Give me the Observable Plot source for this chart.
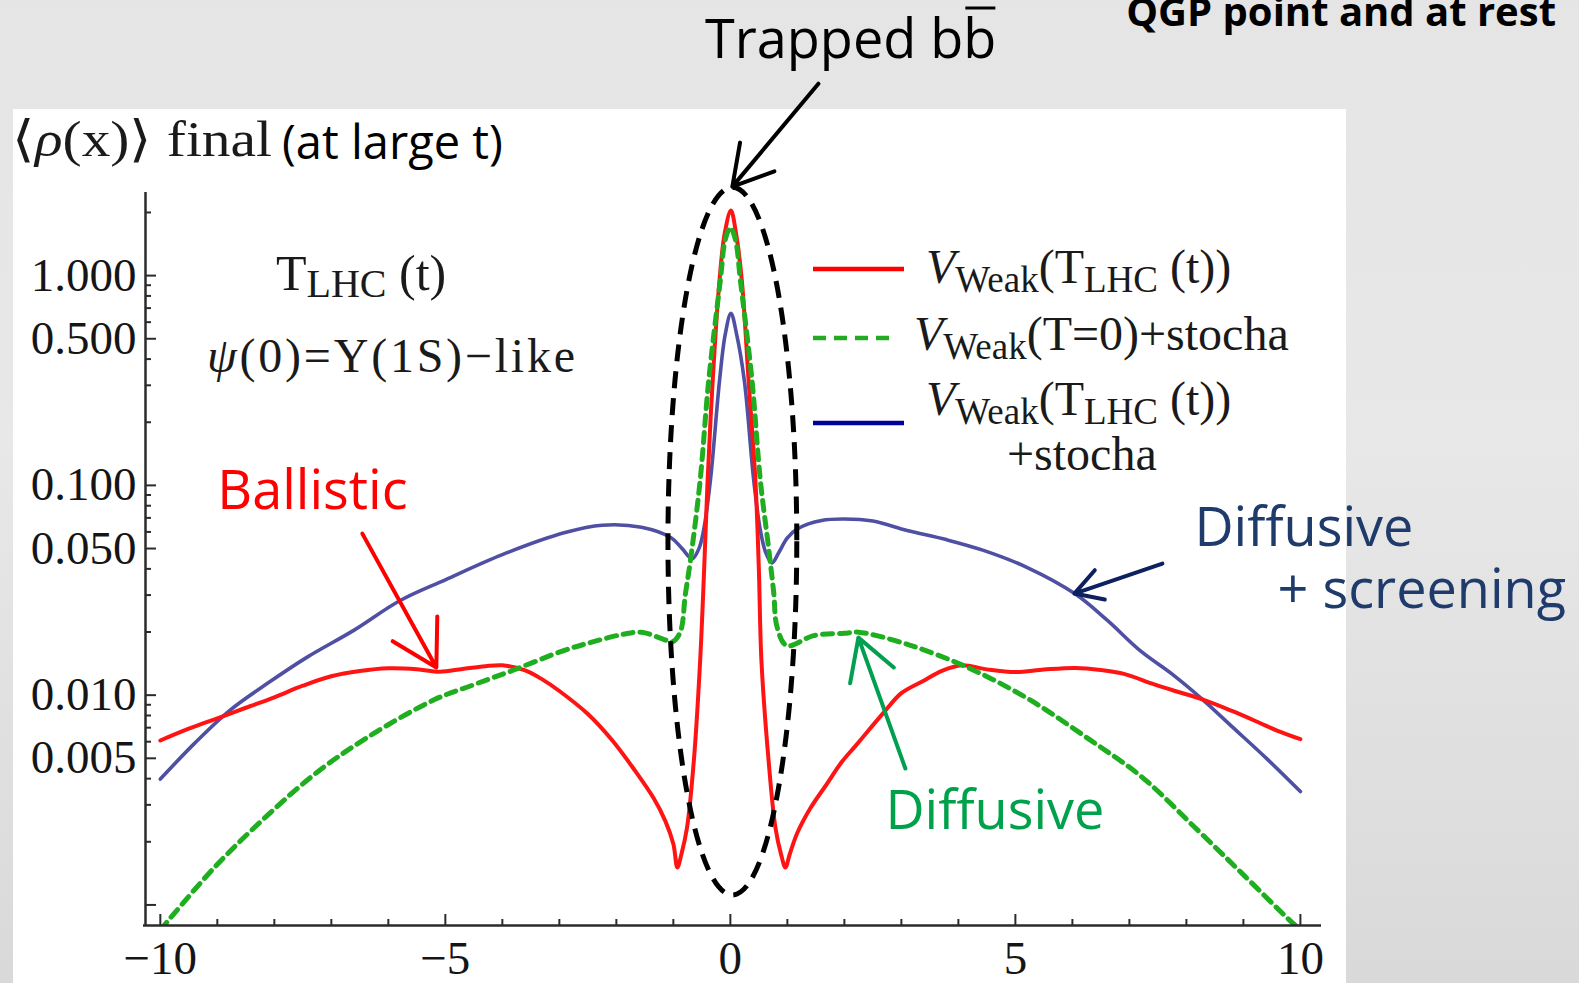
<!DOCTYPE html>
<html><head><meta charset="utf-8">
<script src="https://cdn.jsdelivr.net/npm/d3@7"></script>
<script src="https://cdn.jsdelivr.net/npm/@observablehq/plot@0.6"></script>
<style>
html,body{margin:0;padding:0;width:1579px;height:983px;overflow:hidden;}
body{background:linear-gradient(to bottom,#e5e5e5 0%,#e8e8e8 45%,#d9d9d9 100%);position:relative;}
#panel{position:absolute;left:13px;top:109px;width:1333px;height:874px;background:#ffffff;}
#chart{position:absolute;left:0;top:0;}
</style></head><body>
<div id="panel"></div>
<div id="chart"></div>
<script>
// ---- data ----
const xRed = [-10,-9.5,-9,-8.5,-8,-7.5,-7,-6.5,-6,-5.5,-5.1,-4.7,-4.3,-4.0,-3.6,-3.3,-3.0,-2.5,-2.07,-1.7,-1.35,-1.14,-1.0,-0.93,-0.86,-0.76,-0.64,-0.53,-0.46,-0.40,-0.31,-0.19,-0.1,0.01,0.1,0.2,0.32,0.44,0.5,0.545,0.67,0.79,0.89,0.965,1.04,1.17,1.4,1.7,1.95,2.2,2.7,3.0,3.4,3.7,4.06,4.5,5.0,5.5,6.05,6.5,6.92,7.4,7.8,8.28,8.8,9.27,9.6,10];
const rhoRed = [0.00608,0.00692,0.00776,0.00871,0.00977,0.01109,0.0123,0.01303,0.01343,0.0133,0.01294,0.01334,0.01374,0.01387,0.01312,0.01189,0.01047,0.00813,0.00608,0.00447,0.00324,0.00251,0.00195,0.00151,0.00174,0.00234,0.0049,0.01462,0.0398,0.1047,0.316,0.955,1.585,2.042,1.585,0.955,0.316,0.1047,0.0398,0.01462,0.0049,0.00234,0.00174,0.00151,0.00174,0.00219,0.00288,0.0038,0.00479,0.00575,0.00832,0.01023,0.01175,0.01303,0.0139,0.01327,0.01288,0.01324,0.01349,0.01318,0.01259,0.01135,0.01047,0.00955,0.00841,0.00741,0.00676,0.00617];

const xGreen = [-10,-9.05,-8.15,-7.26,-6.36,-5.18,-4.5,-3.8,-2.95,-2.4,-1.88,-1.56,-1.16,-1.02,-0.88,-0.79,-0.70,-0.53,-0.38,-0.175,-0.09,0,0.09,0.175,0.38,0.526,0.67,0.76,0.82,0.99,1.46,2.0,2.25,3.13,4.18,5.24,6.29,7.22,8.15,8.98,9.8,10];
const rhoGreen = [0.000759,0.00151,0.00263,0.00427,0.00631,0.00955,0.01122,0.01318,0.01622,0.01799,0.0195,0.01995,0.01841,0.01795,0.01995,0.0302,0.04395,0.1057,0.316,0.955,1.479,1.694,1.479,0.955,0.316,0.1057,0.0505,0.0309,0.0211,0.01722,0.01923,0.01972,0.01995,0.01738,0.01349,0.00955,0.00617,0.00407,0.00234,0.00141,0.000851,0.000759];

const xBlue = [-10,-9.4,-8.77,-8.1,-7.43,-6.6,-5.8,-5.0,-4.0,-2.9,-2.25,-1.56,-1.04,-0.85,-0.67,-0.55,-0.47,-0.35,-0.19,-0.09,0.01,0.11,0.245,0.41,0.526,0.62,0.73,0.85,1.0,1.19,1.6,2.0,2.5,3.1,3.8,4.44,5.2,6.04,6.6,7.2,7.75,8.28,8.8,9.4,10];
const rhoBlue = [0.00398,0.00589,0.00851,0.01148,0.01514,0.02042,0.02818,0.03548,0.04677,0.05957,0.06457,0.0631,0.05623,0.0501,0.04467,0.0501,0.06109,0.1057,0.316,0.525,0.661,0.525,0.316,0.1057,0.0611,0.0479,0.0427,0.0479,0.0562,0.0624,0.0681,0.0692,0.0676,0.061,0.055,0.049,0.0407,0.0305,0.0229,0.0162,0.01259,0.00955,0.00708,0.00501,0.00347];

const xDomain = [-10.26, 10.37];
const yDomain = [0.000798, 2.49];
const xMajorTicks = [-10, -5, 0, 5, 10];
const xMinorTicks = [-9,-8,-7,-6,-4,-3,-2,-1,1,2,3,4,6,7,8,9];
const yMajorTicks = [0.001, 0.005, 0.01, 0.05, 0.1, 0.5, 1];
const yLabelTicks = [0.005, 0.01, 0.05, 0.1, 0.5, 1];
const yLabels = ["0.005", "0.010", "0.050", "0.100", "0.500", "1.000"];
const yMinorTicks = [0.002,0.003,0.004,0.006,0.007,0.008,0.009,0.02,0.03,0.04,0.06,0.07,0.08,0.09,0.2,0.3,0.4,0.6,0.7,0.8,0.9,2];

const seriesNames = ["V_Weak(T_LHC(t))", "V_Weak(T=0)+stocha", "V_Weak(T_LHC(t))+stocha"];
const seriesColors = ["#ff1414", "#1fae1f", "#4f4fa3"];
const legendColors = ["#ff0000", "#22aa22", "#00009a"];

// annotation arrows (data coordinates)
const arrowX1 = [1.544, -6.456, 7.579, 3.07];
const arrowY1 = [8.22, 0.0589, 0.0424, 0.00447];
const arrowX2 = [0.035, -5.158, 6.035, 2.246];
const arrowY2 = [2.655, 0.01355, 0.0305, 0.01881];
const arrowColors = ["#000000", "#ff0000", "#0d2160", "#00a050"];

// annotation labels (data coordinates, baseline)
const noteText = ["Ballistic", "Diffusive", "+ screening", "Diffusive"];
const noteX = [-9.0, 8.14, 9.6, 2.72];
const noteY = [0.0775, 0.0516, 0.0259, 0.00231];
const noteColors = ["#ff0000", "#1f3b6b", "#1f3b6b", "#00a14b"];

// dashed ellipse around the peak (data coordinates)
const ellipseCx = 0.044, ellipseRx = 1.13, ellipseTop = 2.62, ellipseBottom = 0.00111;

// ---- build ----
const red = xRed.map((x, i) => ({x, y: rhoRed[i]}));
const green = xGreen.map((x, i) => ({x, y: rhoGreen[i]}));
const blue = xBlue.map((x, i) => ({x, y: rhoBlue[i]}));
const arrows = arrowX1.map((x1, i) => ({x1, y1: arrowY1[i], x2: arrowX2[i], y2: arrowY2[i], c: arrowColors[i]}));
const notes = noteText.map((t, i) => ({t, x: noteX[i], y: noteY[i], c: noteColors[i]}));
const yLab = yLabelTicks.map((v, i) => ({v, t: yLabels[i]}));

const W = 1579, H = 983, mL = 145, mR = 258, mT = 192, mB = 58;
const innerW = W - mL - mR, innerH = H - mT - mB;
const fmtX = d => d < 0 ? "\u2212" + Math.abs(d) : String(d);
const axisColor = "#2b2b2b";

const plot = Plot.plot({
  width: W, height: H,
  marginLeft: mL, marginRight: mR, marginTop: mT, marginBottom: mB,
  style: {background: "transparent", fontFamily: "'Liberation Serif', 'Times New Roman', serif", overflow: "visible"},
  x: {domain: xDomain},
  y: {type: "log", domain: yDomain, axis: null},
  marks: [
    Plot.line(blue, {x: "x", y: "y", stroke: seriesColors[2], strokeWidth: 3.6, curve: "catmull-rom", clip: true}),
    Plot.line(red, {x: "x", y: "y", stroke: seriesColors[0], strokeWidth: 4, curve: "catmull-rom", clip: true}),
    Plot.line(green, {x: "x", y: "y", stroke: seriesColors[1], strokeWidth: 5, strokeDasharray: "10,7", curve: "catmull-rom", clip: true}),
    Plot.ruleX([xDomain[0]], {stroke: axisColor, strokeWidth: 2.5}),
    Plot.ruleY([yDomain[0]], {stroke: axisColor, strokeWidth: 2.5, insetLeft: -2}),
    Plot.ruleX(xMajorTicks, {stroke: axisColor, strokeWidth: 2, insetTop: innerH - 11}),
    Plot.ruleX(xMinorTicks, {stroke: axisColor, strokeWidth: 2, insetTop: innerH - 6}),
    Plot.ruleY(yMajorTicks, {stroke: axisColor, strokeWidth: 2, insetRight: innerW - 11}),
    Plot.ruleY(yMinorTicks, {stroke: axisColor, strokeWidth: 2, insetRight: innerW - 6}),
    Plot.axisX({ticks: xMajorTicks, tickSize: 0, tickPadding: 15, tickFormat: fmtX, fontSize: 47, fill: "#151515", label: null}),
    Plot.text(yLab, {y: "v", text: "t", frameAnchor: "left", dx: -9, textAnchor: "end", fontSize: 47, fill: "#151515"}),
    Plot.arrow(arrows, {x1: "x1", y1: "y1", x2: "x2", y2: "y2", stroke: "c", strokeWidth: 4, headLength: 22}),
    Plot.text(notes, {x: "x", y: "y", text: "t", fill: "c", fontSize: 54, textAnchor: "start", lineAnchor: "bottom", fontFamily: "'Open Sans', sans-serif"})
  ]
});
document.getElementById("chart").appendChild(plot);

// ---- ellipse and rich-text annotations ----
const sx = plot.scale("x"), sy = plot.scale("y");
const svg = d3.select(plot);
const cx = sx.apply(ellipseCx);
const yT = sy.apply(ellipseTop), yB = sy.apply(ellipseBottom);
svg.append("ellipse")
  .attr("cx", cx).attr("cy", (yT + yB) / 2)
  .attr("rx", sx.apply(ellipseCx + ellipseRx) - cx).attr("ry", (yB - yT) / 2)
  .attr("fill", "none").attr("stroke", "#000").attr("stroke-width", 5)
  .attr("stroke-dasharray", "17,10");

const serif = "'Liberation Serif', 'Times New Roman', serif";
const sans = "'Open Sans', sans-serif";
const g = svg.append("g").attr("fill", "#1a1a1a").attr("text-anchor", "start");

function rich(x, y, size, parts, family) {
  const t = g.append("text").attr("x", x).attr("y", y).attr("font-size", size).attr("font-family", family || serif);
  let shift = 0;
  for (const p of parts) {
    const s = t.append("tspan").text(p.t);
    const want = p.sub ? p.sub : 0;
    if (want !== shift) { s.attr("dy", want - shift); shift = want; }
    if (p.size) s.attr("font-size", p.size);
    if (p.italic) s.attr("font-style", "italic");
  }
  return t;
}

// legend
const legY = [269, 338, 423];
legendColors.forEach((c, i) => {
  svg.append("line").attr("x1", 813).attr("x2", i === 1 ? 890 : 904)
    .attr("y1", legY[i]).attr("y2", legY[i]).attr("stroke", c).attr("stroke-width", 4.5)
    .attr("stroke-dasharray", i === 1 ? "13,8" : null);
});
const vW = [{t: "V", italic: true}, {t: "Weak", size: 37, sub: 9}];
rich(926, 283, 48, [...vW, {t: "(T"}, {t: "LHC", size: 37, sub: 9}, {t: " (t))"}]);
rich(914, 350, 48, [...vW, {t: "(T=0)+stocha"}]);
rich(926, 415, 48, [...vW, {t: "(T"}, {t: "LHC", size: 37, sub: 9}, {t: " (t))"}]);
rich(1007, 470, 48, [{t: "+stocha"}]);

// plot notes
rich(276, 290, 50, [{t: "T"}, {t: "LHC", size: 40, sub: 7}, {t: " (t)"}]);
rich(207, 372, 48, [{t: "\u03c8", italic: true}, {t: "(0)=\u03a5(1S)\u2212like"}]).attr("textLength", 368).attr("lengthAdjust", "spacing");
rich(12, 156, 50, [{t: "\u27e8"}, {t: "\u03c1", italic: true}, {t: "(x)\u27e9 final"}]).attr("textLength", 260).attr("lengthAdjust", "spacingAndGlyphs");
rich(282, 159, 47, [{t: "(at large t)"}], sans).attr("fill", "#000");

// slide texts
const trapped = rich(705, 58, 54, [{t: "Trapped bb"}], sans).attr("fill", "#000");
const ext = trapped.node().getExtentOfChar(9);
svg.append("line").attr("x1", ext.x + 2).attr("x2", ext.x + ext.width - 1)
  .attr("y1", 8).attr("y2", 8).attr("stroke", "#000").attr("stroke-width", 3);
rich(1556, 26, 40, [{t: "QGP point and at rest"}], sans).attr("fill", "#000").attr("font-weight", "bold").attr("text-anchor", "end");
</script>
</body></html>
